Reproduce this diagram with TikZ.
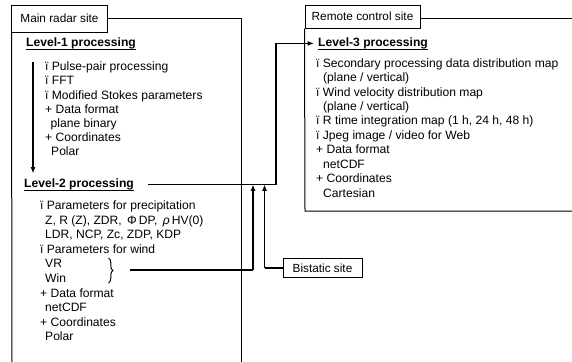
\documentclass[tikz,border=0pt]{standalone}
\usepackage{fontspec}
\setmainfont{Liberation Sans}
\usetikzlibrary{arrows.meta,decorations.pathreplacing}

\begin{document}
\begin{tikzpicture}[x=1bp,y=-1bp,
  txt/.style={anchor=base west, inner sep=0pt, font=\fontsize{12.1bp}{14bp}\selectfont},
  head/.style={txt, font=\fontsize{12.1bp}{14bp}\selectfont\bfseries},
  sitelbl/.style={draw, line width=1bp, inner sep=0pt, font=\fontsize{11.8bp}{14bp}\selectfont},
  frame/.style={line width=1bp},
  uline/.style={line width=1bp},
  thinline/.style={line width=1.1bp},
  conn/.style={line width=1.8bp},
  tip/.style={-{Latex[length=6.5bp,width=5bp]}}
]
\useasboundingbox (0,0) rectangle (572,361);

% ---------- Main radar site ----------
\node[sitelbl, minimum width=95bp, minimum height=27bp] (mainlbl) at (59.5,18.5) {Main radar site};
\draw[frame] (mainlbl.south west) -- (12,362);
\draw[frame] (mainlbl.east |- 0,18) -- (241,18) -- (241,362);

\node[head] (l1) at (26,46.5) {Level-1 processing};
\draw[uline] ([yshift=-3bp]l1.base west) -- ([yshift=-3bp]l1.base east);

\foreach \t [count=\i from 0] in {%
  {ï Pulse-pair processing},
  {ï FFT},
  {ï Modified Stokes parameters},
  {+ Data format},
  {\hspace*{5.5bp}plane binary},
  {+ Coordinates},
  {\hspace*{6bp}Polar}}
  \node[txt] (la\i) at (45,70.7+14.2*\i) {\t};

\coordinate (d1s) at (33,62);
\coordinate (d1e) at (33,173.5);
\draw[line width=1.6bp, tip] (d1s) -- (d1e);

\node[head] (l2) at (24,187.5) {Level-2 processing};
\draw[uline] ([yshift=-3bp]l2.base west) -- ([yshift=-3bp]l2.base east);

\foreach \t [count=\i from 0] in {%
  {ï Parameters for precipitation},
  {\hspace*{5bp}Z, R (Z), ZDR,\, Φ\,DP,\, \textit{ρ}\,HV(0)},
  {\hspace*{5bp}LDR, NCP, Zc, ZDP, KDP},
  {ï Parameters for wind},
  {\hspace*{5bp}VR},
  {\hspace*{5bp}Win},
  {+ Data format},
  {\hspace*{5bp}netCDF},
  {+ Coordinates},
  {\hspace*{5bp}Polar}}
  \node[txt] (lb\i) at (40,209.7+14.55*\i) {\t};

% brace grouping the wind parameters
\coordinate (brt) at (108.5,258);
\coordinate (brb) at (108.5,283);
\draw[line width=1bp, decorate, decoration={brace, amplitude=4.5bp}] (brt) -- (brb);

% ---------- Remote control site ----------
\node[sitelbl, minimum width=115bp, minimum height=23bp] (remlbl) at (362.5,16.5) {Remote control site};
\draw[frame] (remlbl.south west) -- (305,211) -- (573,211);
\draw[frame] (remlbl.east |- 0,18) -- (573,18);

\node[head] (l3) at (318,46.5) {Level-3 processing};
\draw[uline] ([yshift=-3bp]l3.base west) -- ([yshift=-3bp]l3.base east);

\foreach \t [count=\i from 0] in {%
  {ï Secondary processing data distribution map},
  {\hspace*{7bp}(plane / vertical)},
  {ï Wind velocity distribution map},
  {\hspace*{7bp}(plane / vertical)},
  {ï R time integration map (1 h, 24 h, 48 h)},
  {ï Jpeg image / video for Web},
  {+ Data format},
  {\hspace*{7bp}netCDF},
  {+ Coordinates},
  {\hspace*{7bp}Cartesian}}
  \node[txt] (lc\i) at (316,67.2+14.44*\i) {\t};

% ---------- Bistatic site ----------
\node[sitelbl, minimum width=79bp, minimum height=19bp] (bis) at (322.5,268) {Bistatic site};

% ---------- Data flow ----------
\coordinate (jx) at (276,0);
\coordinate (px) at (253,0);
\coordinate (qx) at (264.5,0);
\coordinate (wind) at (130,270);

% Level-2 to Level-3
\draw[thinline] ([xshift=14bp]l2.east) -- (jx |- l2.east) -- (jx |- l3.west);
\draw[conn, tip] (jx |- l3.west) -- ([xshift=-4bp]l3.west);

% wind parameters up to the Level-2 line
\draw[thinline] (wind) -- (px |- wind);
\draw[conn, tip] (px |- wind) -- (px |- l2.east);

% bistatic site up to the Level-2 line
\draw[thinline] (bis.west) -- (qx |- bis.west);
\draw[conn, tip] (qx |- bis.west) -- (qx |- l2.east);
\end{tikzpicture}
\end{document}
